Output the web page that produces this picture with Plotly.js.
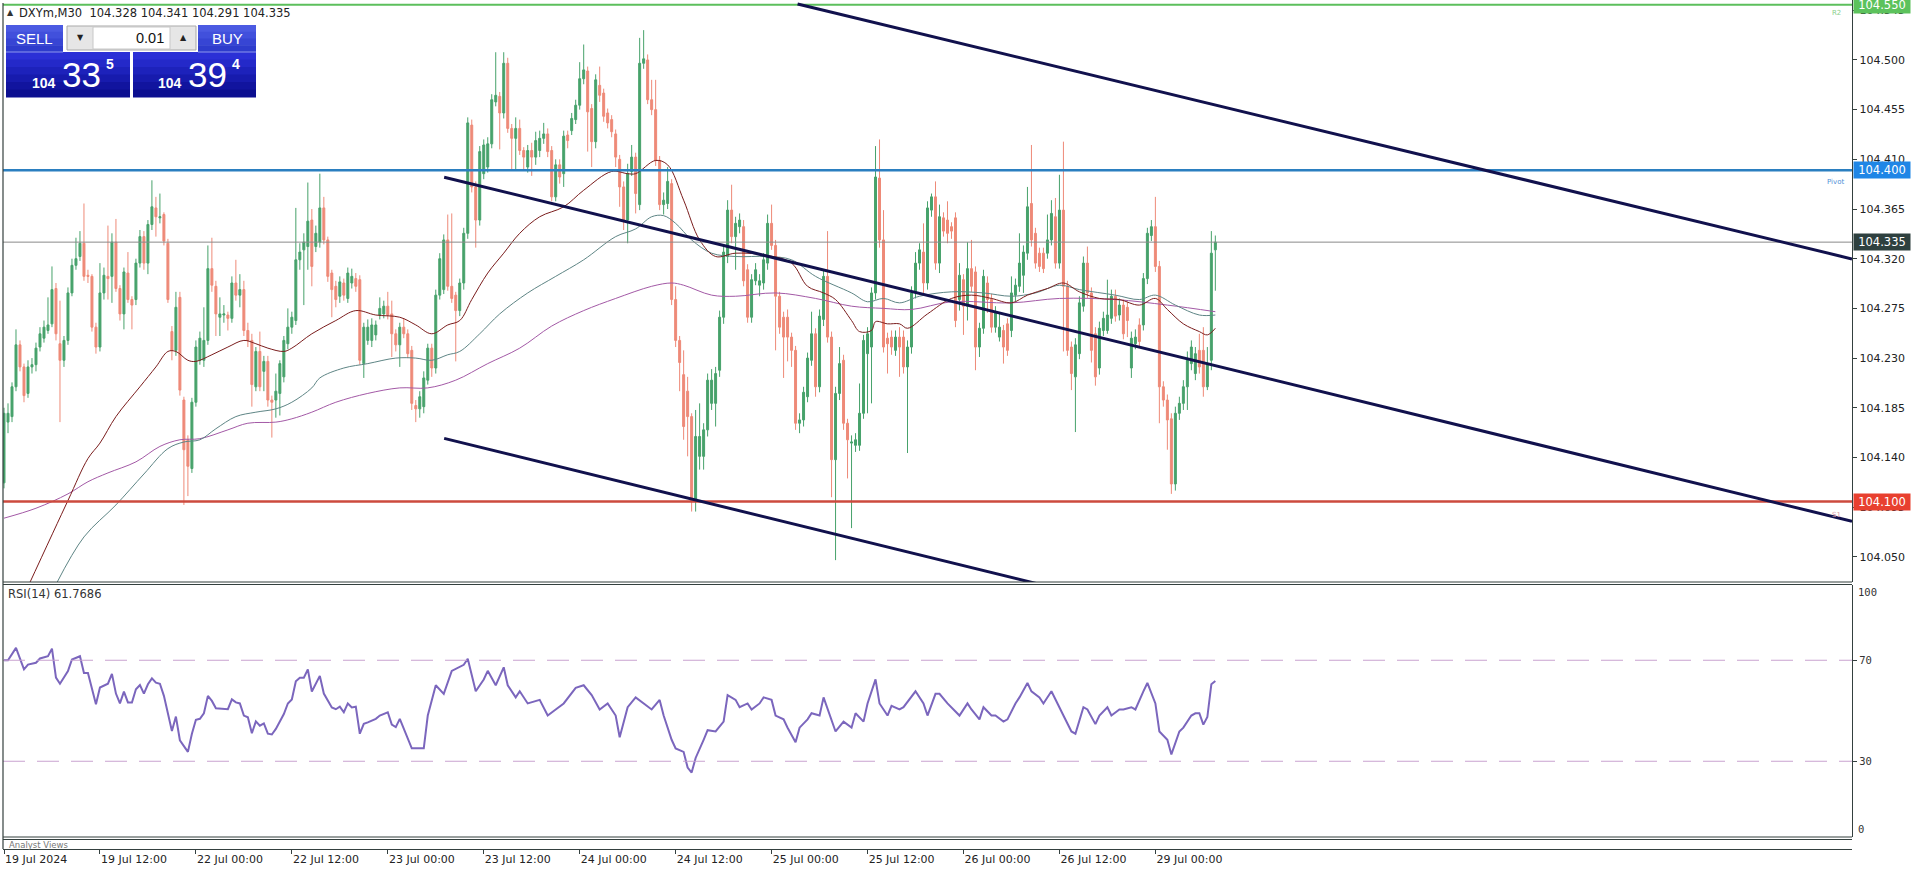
<!DOCTYPE html>
<html><head><meta charset="utf-8">
<script src="https://cdn.plot.ly/plotly-3.0.1.min.js"></script>
<style>html,body{margin:0;padding:0;background:#fff;overflow:hidden}#chart{width:1916px;height:874px}</style>
</head><body><div id="chart"></div>
<script>
// ---------- DATA ----------
const symbolName = "DXYm,M30";
const lastBar = ["104.328", "104.341", "104.291", "104.335"];
const lotSize = "0.01";
const sellQuote = ["104", "33", "5"];
const buyQuote = ["104", "39", "4"];
const rsiCaption = "RSI(14) 61.7686";

const openP = [104.117,104.172,104.177,104.204,104.242,104.222,104.198,104.222,104.224,104.240,104.248,104.255,104.261,104.293,104.243,104.228,104.246,104.289,104.314,104.322,
104.334,104.305,104.304,104.258,104.240,104.289,104.304,104.304,104.335,104.293,104.270,104.307,104.283,104.283,104.316,104.340,104.316,104.351,104.366,104.357,
104.360,104.334,104.254,104.237,104.285,104.192,104.156,104.130,104.190,104.228,104.228,104.246,104.311,104.295,104.267,104.269,104.269,104.266,104.298,104.287,
104.292,104.255,104.246,104.204,104.236,104.218,104.227,104.192,104.192,104.198,104.213,104.243,104.258,104.264,104.319,104.328,104.331,104.355,104.331,104.335,
104.366,104.337,104.307,104.295,104.286,104.298,104.284,104.298,104.302,104.301,104.225,104.246,104.246,104.251,104.269,104.270,104.277,104.270,104.252,104.242,
104.258,104.252,104.237,104.187,104.184,104.186,104.210,104.239,104.221,104.287,104.292,104.337,104.295,104.287,104.273,104.298,104.343,104.441,104.385,104.355,
104.397,104.403,104.424,104.462,104.467,104.452,104.497,104.438,104.429,104.438,104.418,104.403,104.418,104.412,104.418,104.429,104.433,104.418,104.376,104.405,
104.397,104.432,104.436,104.446,104.459,104.483,104.490,104.456,104.426,104.477,104.470,104.452,104.446,104.433,104.410,104.385,104.355,104.399,104.412,104.369,
104.497,104.500,104.464,104.455,104.409,104.369,104.370,104.388,104.283,104.246,104.215,104.200,104.177,104.101,104.141,104.141,104.165,104.189,104.189,104.219,
104.267,104.322,104.364,104.340,104.349,104.349,104.310,104.267,104.300,104.296,104.298,104.316,104.352,104.332,104.286,104.267,104.267,104.249,104.237,104.171,
104.174,104.195,104.228,104.252,104.204,104.265,104.304,104.249,104.138,104.198,104.228,104.171,104.153,104.151,104.151,104.180,104.234,104.240,104.289,104.393,
104.337,104.248,104.249,104.237,104.249,104.249,104.222,104.240,104.289,104.316,104.326,104.298,104.364,104.376,104.316,104.357,104.355,104.349,104.357,104.283,
104.301,104.277,104.311,104.308,104.240,104.257,104.298,104.283,104.258,104.249,104.255,104.261,104.255,104.287,104.295,104.305,104.325,104.370,104.343,104.325,
104.325,104.325,104.337,104.358,104.316,104.364,104.295,104.240,104.213,104.234,104.277,104.316,104.289,104.252,104.221,104.255,104.255,104.266,104.286,104.269,
104.278,104.276,104.221,104.243,104.260,104.260,104.302,104.341,104.349,104.313,104.204,104.192,104.175,104.116,104.180,104.189,104.204,104.225,104.216,104.237,
104.237,104.204,104.228,104.328];
const highP = [104.185,104.189,104.208,104.256,104.246,104.225,104.228,104.230,104.244,104.258,104.264,104.285,104.313,104.298,104.282,104.250,104.294,104.320,104.339,104.345,
104.370,104.310,104.306,104.262,104.316,104.312,104.350,104.343,104.356,104.296,104.312,104.326,104.286,104.320,104.346,104.345,104.355,104.391,104.376,104.379,
104.362,104.338,104.259,104.290,104.290,104.195,104.160,104.194,104.246,104.254,104.276,104.332,104.339,104.300,104.285,104.278,104.272,104.304,104.319,104.306,
104.300,104.262,104.252,104.240,104.254,104.232,104.232,104.196,104.216,104.228,104.250,104.275,104.272,104.366,104.334,104.343,104.389,104.365,104.350,104.397,
104.376,104.340,104.310,104.300,104.304,104.302,104.312,104.311,104.307,104.305,104.262,104.265,104.266,104.264,104.285,104.282,104.290,104.282,104.256,104.262,
104.266,104.256,104.241,104.192,104.200,104.218,104.243,104.243,104.292,104.325,104.342,104.360,104.361,104.290,104.302,104.348,104.448,104.446,104.390,104.422,
104.428,104.430,104.469,104.507,104.471,104.507,104.502,104.442,104.448,104.446,104.421,104.423,104.425,104.435,104.436,104.443,104.438,104.422,104.410,104.410,
104.436,104.436,104.452,104.464,104.498,104.514,104.494,104.460,104.487,104.494,104.474,104.456,104.450,104.437,104.414,104.390,104.406,104.423,104.416,104.520,
104.527,104.505,104.482,104.482,104.413,104.380,104.403,104.392,104.295,104.250,104.237,104.213,104.180,104.183,104.189,104.171,104.216,104.220,104.222,104.273,
104.331,104.373,104.387,104.358,104.361,104.355,104.315,104.306,104.316,104.306,104.325,104.360,104.369,104.337,104.290,104.272,104.274,104.253,104.241,104.180,
104.204,104.235,104.272,104.257,104.274,104.310,104.345,104.254,104.204,104.240,104.233,104.175,104.160,104.162,104.207,104.251,104.258,104.294,104.422,104.428,
104.364,104.253,104.255,104.255,104.258,104.255,104.246,104.295,104.326,104.334,104.352,104.372,104.379,104.390,104.369,104.362,104.372,104.353,104.362,104.316,
104.306,104.335,104.337,104.313,104.262,104.310,104.304,104.288,104.277,104.270,104.260,104.266,104.304,104.302,104.343,104.332,104.385,104.423,104.348,104.330,
104.330,104.360,104.373,104.375,104.396,104.426,104.300,104.245,104.248,104.286,104.322,104.331,104.294,104.258,104.263,104.272,104.301,104.292,104.292,104.284,
104.283,104.281,104.254,104.256,104.266,104.307,104.348,104.355,104.376,104.318,104.209,104.197,104.180,104.186,104.195,104.210,104.236,104.246,104.240,104.252,
104.258,104.240,104.345,104.341];
const lowP = [104.112,104.162,104.172,104.200,104.218,104.190,104.194,104.216,104.218,104.236,104.244,104.252,104.258,104.246,104.172,104.222,104.242,104.286,104.310,104.318,
104.300,104.298,104.254,104.234,104.236,104.283,104.283,104.280,104.290,104.264,104.256,104.280,104.256,104.278,104.312,104.310,104.306,104.346,104.340,104.352,
104.332,104.280,104.228,104.232,104.196,104.097,104.105,104.126,104.186,104.224,104.222,104.242,104.290,104.250,104.250,104.262,104.255,104.262,104.282,104.276,
104.250,104.240,104.186,104.200,104.200,104.200,104.186,104.158,104.176,104.178,104.208,104.238,104.252,104.260,104.310,104.278,104.310,104.295,104.326,104.330,
104.333,104.299,104.267,104.276,104.280,104.282,104.280,104.293,104.290,104.224,104.212,104.242,104.240,104.246,104.265,104.266,104.265,104.231,104.236,104.222,
104.248,104.230,104.183,104.172,104.176,104.180,104.206,104.213,104.216,104.283,104.288,104.291,104.280,104.227,104.268,104.292,104.338,104.380,104.330,104.350,
104.392,104.398,104.420,104.458,104.419,104.447,104.434,104.400,104.400,104.414,104.400,104.398,104.395,104.405,104.412,104.424,104.412,104.372,104.372,104.388,
104.385,104.420,104.432,104.442,104.455,104.478,104.417,104.403,104.420,104.462,104.444,104.438,104.430,104.403,104.367,104.346,104.334,104.395,104.361,104.364,
104.492,104.460,104.450,104.404,104.364,104.360,104.365,104.278,104.240,104.200,104.156,104.141,104.091,104.091,104.129,104.129,104.159,104.183,104.168,104.213,
104.261,104.316,104.334,104.310,104.343,104.295,104.262,104.262,104.296,104.286,104.292,104.310,104.328,104.237,104.252,104.212,104.227,104.222,104.165,104.162,
104.168,104.190,104.223,104.195,104.199,104.259,104.244,104.104,104.047,104.192,104.165,104.121,104.076,104.145,104.146,104.175,104.180,104.189,104.283,104.330,
104.235,104.216,104.233,104.232,104.213,104.216,104.144,104.234,104.284,104.310,104.289,104.292,104.358,104.310,104.307,104.340,104.334,104.338,104.258,104.273,
104.251,104.264,104.290,104.219,104.231,104.252,104.271,104.253,104.253,104.245,104.225,104.232,104.249,104.281,104.290,104.289,104.319,104.331,104.311,104.308,
104.307,104.320,104.332,104.311,104.311,104.236,104.232,104.201,104.163,104.229,104.272,104.284,104.226,104.205,104.215,104.250,104.252,104.261,104.263,104.264,
104.247,104.249,104.212,104.238,104.240,104.255,104.297,104.336,104.308,104.171,104.186,104.147,104.107,104.110,104.174,104.183,104.183,104.219,104.210,104.216,
104.195,104.201,104.219,104.291];
const closeP = [104.180,104.180,104.204,104.242,104.222,104.196,104.222,104.224,104.239,104.252,104.258,104.260,104.292,104.252,104.228,104.246,104.289,104.314,104.320,104.334,
104.304,104.304,104.258,104.240,104.289,104.305,104.302,104.335,104.293,104.270,104.308,104.283,104.278,104.316,104.340,104.316,104.351,104.367,104.358,104.358,
104.336,104.283,104.237,104.276,104.201,104.147,104.132,104.190,104.240,104.248,104.246,104.311,104.296,104.270,104.270,104.270,104.266,104.298,104.287,104.292,
104.255,104.246,104.206,104.236,104.204,104.227,104.192,104.190,104.200,104.225,104.246,104.258,104.267,104.319,104.326,104.335,104.354,104.313,104.343,104.366,
104.337,104.304,104.292,104.283,104.299,104.287,104.307,104.304,104.295,104.228,104.258,104.258,104.260,104.260,104.275,104.277,104.269,104.252,104.242,104.258,
104.252,104.234,104.189,104.184,104.195,104.212,104.239,104.221,104.287,104.320,104.337,104.295,104.284,104.273,104.298,104.343,104.443,104.385,104.355,104.417,
104.423,104.424,104.464,104.468,104.452,104.497,104.438,104.429,104.438,104.418,104.412,104.418,104.412,104.427,104.429,104.433,104.417,104.376,104.405,104.394,
104.431,104.427,104.447,104.459,104.483,104.491,104.453,104.426,104.482,104.468,104.449,104.443,104.435,104.412,104.385,104.355,104.397,104.412,104.379,104.497,
104.501,104.464,104.455,104.409,104.369,104.373,104.390,104.283,104.246,104.226,104.168,104.177,104.101,104.159,104.159,104.165,104.210,104.210,104.216,104.267,
104.326,104.364,104.340,104.352,104.355,104.300,104.267,104.301,104.310,104.300,104.319,104.352,104.332,104.286,104.258,104.249,104.249,104.237,104.171,104.174,
104.199,104.230,104.252,104.204,104.268,104.304,104.249,104.138,104.198,104.225,104.171,104.156,104.154,104.156,104.180,104.246,104.252,104.289,104.394,104.337,
104.240,104.243,104.240,104.249,104.240,104.222,104.240,104.289,104.316,104.328,104.298,104.366,104.376,104.316,104.358,104.345,104.343,104.345,104.264,104.305,
104.277,104.311,104.295,104.240,104.257,104.304,104.283,104.258,104.272,104.258,104.240,104.237,104.289,104.296,104.316,104.326,104.367,104.337,104.316,104.313,
104.311,104.337,104.361,104.316,104.364,104.295,104.237,104.216,104.242,104.280,104.316,104.289,104.237,104.213,104.257,104.266,104.269,104.286,104.268,104.278,
104.252,104.264,104.248,104.249,104.245,104.302,104.343,104.349,104.313,104.204,104.192,104.174,104.116,104.180,104.189,104.204,104.228,104.240,104.234,104.222,
104.204,104.224,104.325,104.335];

// moving averages (bar index, price)
const maFastIdx = [6,16,21,24,28,34,38,41,43,46,48,52,56,60,63,66,70,72,77,83,88,93,99,103,107,111,114,117,121,125,129,134,140,145,152,156,158,163,166,170,174,178,183,191,197,201,205,208,212,214,217,218,221,224,226,231,237,242,247,252,256,261,265,269,274,279,284,288,291,295,299,301,303];
const maFastVal = [104.023,104.101,104.139,104.153,104.177,104.204,104.222,104.236,104.236,104.228,104.227,104.233,104.240,104.246,104.243,104.239,104.236,104.239,104.252,104.264,104.273,104.269,104.267,104.260,104.252,104.260,104.264,104.283,104.307,104.325,104.343,104.358,104.367,104.382,104.399,104.397,104.397,104.409,104.405,104.373,104.337,104.322,104.325,104.323,104.316,104.295,104.289,104.283,104.264,104.254,104.255,104.263,104.261,104.261,104.257,104.270,104.284,104.287,104.284,104.280,104.287,104.293,104.298,104.290,104.284,104.283,104.278,104.284,104.274,104.261,104.254,104.251,104.257];
const maMidIdx = [13,20,28,35,41,45,49,53,58,63,68,72,77,79,85,91,98,103,107,111,114,119,124,131,138,145,153,158,162,165,168,172,177,183,191,197,203,212,216,220,224,229,237,245,252,258,264,269,278,284,288,293,299,303];
const maMidVal = [104.025,104.068,104.097,104.125,104.148,104.154,104.156,104.166,104.177,104.181,104.184,104.190,104.203,104.212,104.221,104.225,104.230,104.230,104.228,104.233,104.236,104.252,104.270,104.289,104.304,104.319,104.340,104.347,104.358,104.359,104.352,104.337,104.325,104.322,104.322,104.319,104.304,104.289,104.281,104.284,104.280,104.286,104.290,104.289,104.286,104.289,104.296,104.292,104.287,104.283,104.287,104.278,104.269,104.269];
const maSlowIdx = [0,8,16,21,26,33,39,44,49,56,61,68,72,77,83,91,99,106,113,121,129,137,145,153,162,167,170,177,183,193,203,212,220,227,237,252,264,278,291,303];
const maSlowVal = [104.085,104.094,104.107,104.118,104.126,104.136,104.150,104.156,104.157,104.165,104.171,104.172,104.175,104.181,104.190,104.198,104.203,104.203,104.210,104.225,104.239,104.259,104.273,104.284,104.295,104.298,104.296,104.287,104.286,104.289,104.284,104.277,104.275,104.274,104.281,104.280,104.284,104.283,104.278,104.272];

// RSI(14)
const rsiIdx = [0,1,3,5,6,8,9,11,12,13,14,16,17,19,20,21,23,24,26,27,28,29,30,31,32,33,34,35,36,37,38,39,40,41,42,43,44,46,47,48,49,50,51,52,53,56,57,58,59,60,61,62,63,64,65,66,67,68,70,71,72,73,74,75,76,77,79,80,82,83,84,85,86,87,88,89,90,91,93,94,96,97,98,99,
102,105,106,108,110,112,115,116,118,120,121,123,125,126,128,129,131,134,136,138,140,143,145,147,149,151,153,154,156,158,160,162,164,165,167,168,170,171,172,173,175,176,178,180,181,183,184,186,187,189,190,192,193,195,196,198,199,201,202,204,205,207,208,210,212,213,215,216,218,219,221,222,224,225,227,228,230,231,233,234,236,237,239,241,242,244,245,247,248,250,251,253,254,256,257,259,260,262,263,265,267,268,270,271,273,274,276,277,279,280,282,283,285,286,288,289,291,292,294,295,297,298,299,300,301,302,303];
const rsiVal = [70,70,74.9,66.4,68.3,69,70.7,71.6,74.6,63.1,60.7,65.7,70.3,71.6,65,65,52.6,59.2,60.7,64.6,56.8,52.9,57.6,53.3,53.3,58.5,60.2,56.8,60.5,62.8,61.1,60.7,55.9,48.7,42,47.7,38.3,33.7,40.9,46.4,46.8,49,55.9,53.9,51,50.6,54.5,53.3,52.9,48.1,47.4,41.1,45.8,44.1,45,40.9,40.6,42.8,48.7,52.9,54.5,61.7,63.1,63.1,66.4,57.6,63.8,56.8,51.3,50.6,51.6,49.4,52.9,51.3,51.6,40.9,44.8,45.4,46.8,48.1,49.4,44.5,43.5,46.8,
35.1,35.1,48.1,60.1,56.7,65.8,68.2,70.6,57.7,62.4,65.8,60.1,67.2,60.1,55.3,57.7,52.9,54.3,48.1,50.5,52.9,59.1,60.1,56.2,50.5,52.9,48.1,39.5,51.4,55.3,52.9,50.5,54.3,48.1,38.5,35.1,33.7,27.5,25.5,31.3,38.5,42.3,41.8,45.7,56.2,54.3,51.4,52.9,50.5,52.9,55.3,54.3,48.1,46.6,43.3,37.5,43.3,46.6,49.0,48.1,55.3,45.7,41.8,45.7,43.3,49.0,45.7,52.9,62.4,52.9,48.1,51.9,50.5,51.4,55.3,57.7,52.9,48.1,56.7,56.7,52.9,51.4,48.1,52.9,50.5,46.6,51.4,48.1,48.1,45.7,46.6,52.9,55.3,61.0,57.7,55.3,52.9,57.7,54.3,48.1,41.8,40.9,51.4,50.5,44.7,48.1,51.4,48.1,50.5,50.5,51.4,50.5,57.7,61.0,52.9,41.8,38.5,32.7,41.8,43.3,48.1,49.0,49.0,44.5,47.5,60.5,61.77];

// axis ticks
const xTickIdx = [0,24,48,72,96,120,144,168,192,216,240,264,288];
const xTickText = ["19 Jul 2024","19 Jul 12:00","22 Jul 00:00","22 Jul 12:00","23 Jul 00:00","23 Jul 12:00","24 Jul 00:00","24 Jul 12:00","25 Jul 00:00","25 Jul 12:00","26 Jul 00:00","26 Jul 12:00","29 Jul 00:00"];
const priceTicks = [104.545,104.500,104.455,104.410,104.365,104.320,104.275,104.230,104.185,104.140,104.095,104.050];
const rsiLevels = [70, 30];
const rsiScaleLabels = ["100", "0"];

// horizontal levels
const levelR2 = 104.550, levelPivot = 104.400, levelS1 = 104.100, levelBid = 104.335;

// channel trend lines: [startIdx, endIdx], [startPrice, endPrice]
const chanUpperIdx = [198.5, 462.25], chanUpperPx = [104.5507, 104.3198];
const chanMidIdx = [110.1, 462.25], chanMidPx = [104.3938, 104.0822];
const chanLowIdx = [110.1, 259.25], chanLowPx = [104.1573, 104.0249];

// ---------- LAYOUT HELPERS (pixel -> paper) ----------
const L = 3, R = 64, T = 0, B = 25, W = 1916, H = 874;
const PW = W - L - R, PH = H - T - B;
const px = x => (x - L) / PW;
const py = y => (PH - (y - T)) / PH;

const idx = closeP.map((_, i) => i);
const GREEN = '#47a26b', RED = '#ee8a78';

const traces = [
  {type:'candlestick', x: idx, open: openP, high: highP, low: lowP, close: closeP,
   xaxis:'x', yaxis:'y', whiskerwidth: 0,
   increasing:{line:{color:GREEN, width:1}, fillcolor:GREEN},
   decreasing:{line:{color:RED, width:1}, fillcolor:RED}, hoverinfo:'skip'},
  {type:'scatter', mode:'lines', x: maSlowIdx, y: maSlowVal, xaxis:'x', yaxis:'y',
   line:{color:'#a359a6', width:1, shape:'spline'}, hoverinfo:'skip'},
  {type:'scatter', mode:'lines', x: maMidIdx, y: maMidVal, xaxis:'x', yaxis:'y',
   line:{color:'#5e8585', width:1, shape:'spline'}, hoverinfo:'skip'},
  {type:'scatter', mode:'lines', x: maFastIdx, y: maFastVal, xaxis:'x', yaxis:'y',
   line:{color:'#7a1c1c', width:1, shape:'spline'}, hoverinfo:'skip'},
  {type:'scatter', mode:'lines', x: rsiIdx, y: rsiVal, xaxis:'x', yaxis:'y2',
   line:{color:'#7b66bd', width:2}, hoverinfo:'skip'}
];

const shapes = [];
const hline = (y, color, width, ref, dash) => shapes.push({type:'line', xref:'paper', x0:0, x1:1, yref:ref, y0:y, y1:y, line:{color, width, dash: dash||'solid'}});
hline(levelR2, '#5cbf5c', 2, 'y');
hline(levelBid, '#8a8a8a', 1, 'y');
hline(levelPivot, '#2b7fc0', 2.5, 'y');
hline(levelS1, '#cc4a3e', 2.5, 'y');
rsiLevels.forEach(v => hline(v, '#c9a3d0', 1, 'y2', '22px,12px'));
[[chanUpperIdx, chanUpperPx],[chanMidIdx, chanMidPx],[chanLowIdx, chanLowPx]].forEach(([xs, ys]) =>
  shapes.push({type:'line', xref:'x', yref:'y', x0:xs[0], x1:xs[1], y0:ys[0], y1:ys[1], line:{color:'#11114d', width:3}}));
// panel borders
const BORDER = '#34403f';
[582, 584.5, 837, 839.5].forEach(y => shapes.push({type:'line', xref:'paper', yref:'paper', x0:0, x1:1, y0:py(y), y1:py(y), line:{color:BORDER, width:1.2}}));
shapes.push({type:'line', xref:'paper', yref:'paper', x0:0, x1:0, y0:0, y1:py(3), line:{color:BORDER, width:1.2}});

// trade panel boxes (gradient approximated by bands)
function gradBox(x0, y0, x1, y1, cols) {
  const n = cols.length, h = (y1 - y0) / n;
  cols.forEach((c, i) => shapes.push({type:'rect', xref:'paper', yref:'paper', x0:px(x0), x1:px(x1), y0:py(y0 + i*h), y1:py(y0 + (i+1)*h + 0.6), line:{width:0}, fillcolor:c}));
}
gradBox(6, 25, 63, 52, ['#4b5ae2','#4150dc','#3745d4','#2e3ccc']);
gradBox(198, 25, 256, 52, ['#4b5ae2','#4150dc','#3745d4','#2e3ccc']);
gradBox(6, 52, 130, 97, ['#2b30d6','#2429c9','#1d22bb','#171bad','#11149e','#0c0f90']);
gradBox(133, 52, 256, 97, ['#2b30d6','#2429c9','#1d22bb','#171bad','#11149e','#0c0f90']);
shapes.push({type:'line', xref:'paper', yref:'paper', x0:px(6), x1:px(63), y0:py(52), y1:py(52), line:{color:'#8d97ee', width:1}});
shapes.push({type:'line', xref:'paper', yref:'paper', x0:px(198), x1:px(256), y0:py(52), y1:py(52), line:{color:'#8d97ee', width:1}});
shapes.push({type:'rect', xref:'paper', yref:'paper', x0:px(67), x1:px(196), y0:py(26), y1:py(50), line:{color:'#a9a9a9', width:1}, fillcolor:'#e6e6e6'});
shapes.push({type:'rect', xref:'paper', yref:'paper', x0:px(93), x1:px(170), y0:py(27), y1:py(49), line:{color:'#c8c8c8', width:1}, fillcolor:'#ffffff'});

const annotations = [];
const FONT = 'DejaVu Sans';
function txt(text, x, y, size, color, opts) {
  annotations.push(Object.assign({text, xref:'paper', yref:'paper', x:px(x), y:py(y), xanchor:'left', yanchor:'middle', showarrow:false,
    font:{family:FONT, size, color}, borderpad:0}, opts||{}));
}
txt('▲', 6, 13, 8, '#333');
txt(symbolName + '  ' + lastBar.join(' '), 18, 13, 11.5, '#222');
txt('SELL', 34.5, 39, 14, '#ffffff', {xanchor:'center', font:{family:'Liberation Sans', size:15, color:'#fff'}});
txt('BUY', 227, 39, 14, '#ffffff', {xanchor:'center', font:{family:'Liberation Sans', size:15, color:'#fff'}});
txt('▼', 80, 38, 8, '#222', {xanchor:'center'});
txt('▲', 183, 38, 8, '#222', {xanchor:'center'});
txt(lotSize, 165, 38, 14, '#111', {xanchor:'right', font:{family:'Liberation Sans', size:14.5, color:'#111'}});
function quote(q, x0) {
  txt('<b>' + q[0] + '</b>', x0, 83, 14, '#fff', {font:{family:'Liberation Sans', size:14, color:'#fff'}});
  txt(q[1], x0 + 30, 75, 34, '#fff', {font:{family:'Liberation Sans', size:35, color:'#fff'}});
  txt('<b>' + q[2] + '</b>', x0 + 74, 64, 13, '#fff', {font:{family:'Liberation Sans', size:14, color:'#fff'}});
}
quote(sellQuote, 31);
quote(buyQuote, 157);
txt(rsiCaption, 7, 594, 11.5, '#333');
txt(rsiScaleLabels[0], 1857, 592, 10, '#333', {font:{family:'DejaVu Sans Mono', size:10.5, color:'#333'}});
txt(rsiScaleLabels[1], 1857, 829, 10, '#333', {font:{family:'DejaVu Sans Mono', size:10.5, color:'#333'}});
txt('Analyst Views', 8, 845, 8.5, '#777');
txt('R2', 1831, 13, 7, '#8ccf8c');
txt('Pivot', 1826, 182, 7, '#4f8fd6');
txt('S1', 1831, 515, 7, '#d99aa6');

// price tags on axis
[[levelR2,'#5cc25c'],[levelPivot,'#1f86e6'],[levelBid,'#2e403f'],[levelS1,'#e8402f']].forEach(([v,c]) =>
  annotations.push({text: v.toFixed(3), xref:'paper', x:1, xanchor:'left', xshift:1, yref:'y', y:v, yanchor:'middle',
    showarrow:false, bgcolor:c, font:{family:FONT, size:11.5, color:'#fff'}, borderpad:1, width:54, align:'center'}));

const layout = {
  width:W, height:H, margin:{l:L, r:R, t:T, b:B}, paper_bgcolor:'#fff', plot_bgcolor:'#fff',
  showlegend:false, hovermode:false, dragmode:false,
  xaxis:{domain:[0,1], range:[-0.25, 462.25], anchor:'free', position:0, showgrid:false, zeroline:false,
    showline:true, linecolor:BORDER, linewidth:1.2, ticks:'outside', ticklen:4, tickcolor:BORDER,
    tickvals:xTickIdx, ticktext:xTickText, ticklabelposition:'outside right',
    tickfont:{family:FONT, size:11, color:'#222'}, rangeslider:{visible:false}, fixedrange:true},
  yaxis:{domain:[py(582), 1], range:[104.0272, 104.5543], side:'right', anchor:'x', showgrid:false, zeroline:false,
    showline:true, linecolor:BORDER, linewidth:1.2, ticks:'outside', ticklen:4, tickcolor:BORDER,
    tickvals:priceTicks, ticktext:priceTicks.map(v => v.toFixed(3)), tickfont:{family:FONT, size:11, color:'#222'}, fixedrange:true},
  yaxis2:{domain:[py(837), py(584.5)], range:[0,100], side:'right', anchor:'x', showgrid:false, zeroline:false,
    showline:true, linecolor:BORDER, linewidth:1.2, ticks:'outside', ticklen:4, tickcolor:BORDER,
    tickvals:rsiLevels, ticktext:rsiLevels.map(String), tickfont:{family:'DejaVu Sans Mono', size:10.5, color:'#333'}, fixedrange:true},
  shapes, annotations
};
Plotly.newPlot('chart', traces, layout, {staticPlot:true, displayModeBar:false});
</script>
</body></html>
